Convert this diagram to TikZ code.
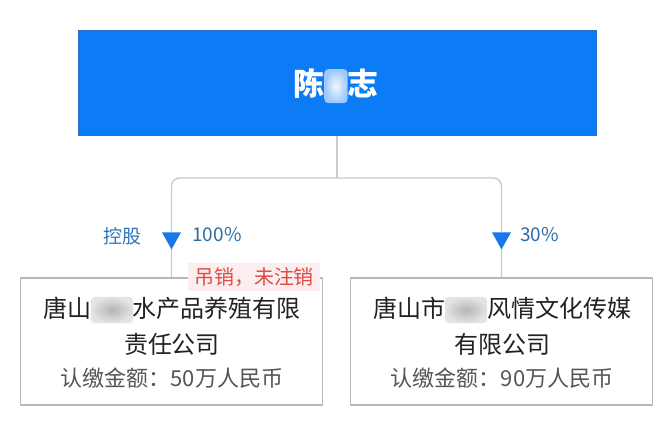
\documentclass[tikz,border=0pt]{standalone}
\usepackage{fontspec}
\setmainfont{Noto Sans CJK SC}
\usetikzlibrary{calc}
\definecolor{mainblue}{HTML}{0B7BF6}
\definecolor{mainborder}{HTML}{2A6FC2}
\definecolor{tri}{HTML}{1878E8}
\definecolor{lblblue}{HTML}{3275B8}
\definecolor{pctblue}{HTML}{2E6CA4}
\definecolor{linegray}{HTML}{C6CBD0}
\definecolor{boxgray}{HTML}{B8B8B8}
\definecolor{txtdark}{HTML}{222222}
\definecolor{txtgray}{HTML}{555555}
\definecolor{redtxt}{HTML}{E04B43}
\definecolor{pinkbg}{HTML}{FCEEEE}
\definecolor{blurgrayin}{HTML}{B5B5B5}
\definecolor{blurgrayout}{HTML}{E4E4E4}
\definecolor{blurbluein}{HTML}{F2F7FF}
\definecolor{blurblueout}{HTML}{9CC8FB}
\newcommand\blurpatch[3]{\tikz[baseline=-0.38em]{\shade[inner color=#2,outer color=#3,rounded corners=2pt] (0,-0.62em) rectangle (#1,0.48em);}}
\tikzset{
  x=0.5pt, y=-0.5pt,
  namebox/.style={draw=mainborder, line width=0.5pt, fill=mainblue, minimum width=259pt, minimum height=52.5pt, inner sep=0pt},
  nametext/.style={text=white, font=\bfseries\fontsize{15.5}{18}\selectfont, inner sep=0pt},
  cbox/.style={draw=boxgray, line width=0.6pt, fill=white, minimum width=151pt, minimum height=63.5pt, inner sep=0pt},
  conn/.style={draw=linegray, line width=0.7pt, rounded corners=4pt},
  arrowtri/.style={fill=tri},
  lbl/.style={text=lblblue, font=\fontsize{9.5}{11}\selectfont, inner sep=0pt},
  pct/.style={text=pctblue, font=\fontsize{9.5}{11}\selectfont, inner sep=0pt, anchor=west},
  line1/.style={text=txtdark, font=\fontsize{12}{14}\selectfont, inner sep=0pt},
  line3/.style={text=txtgray, font=\fontsize{11}{13}\selectfont, inner sep=0pt},
  status/.style={fill=pinkbg, text=redtxt, font=\fontsize{10}{12}\selectfont, inner xsep=3pt, inner ysep=2pt},
}
\begin{document}
\begin{tikzpicture}
\useasboundingbox[fill=white] (0,0) rectangle (660,429);
% top box
\node[namebox] (n) at (337,82.5) {};
\node[nametext] (nt) at (336,86) {陈\blurpatch{0.75em}{blurbluein}{blurblueout}志};
% company boxes
\node[cbox] (a) at (171.5,341.5) {};
\node[cbox] (b) at (501.5,341.5) {};
% connectors
\coordinate (j) at (n.south |- 0,178);
\draw[conn] (n.south) -- (j);
\draw[conn] (j) -| (a.north);
\draw[conn] (j) -| (b.north);
% triangles
\fill[arrowtri] ($(a.north)+(-9.5,-45)$) -- ($(a.north)+(9.5,-45)$) -- ($(a.north)+(0,-28)$) -- cycle;
\fill[arrowtri] ($(b.north)+(-9.5,-45)$) -- ($(b.north)+(9.5,-45)$) -- ($(b.north)+(0,-28)$) -- cycle;
% labels
\node[lbl] (hold) at (123,236) {控股};
\node[pct] (pa) at (192,235) {100\%};
\node[pct] (pb) at (520,235) {30\%};
% status
\node[status] (st) at (254,277) {吊销，未注销};
% texts in left box
\node[line1] (a1) at (172,310) {唐山\blurpatch{1.75em}{blurgrayin}{blurgrayout}水产品养殖有限};
\node[line1] (a2) at (172,344) {责任公司};
\node[line3] (a3) at (172,378) {认缴金额：50万人民币};
% texts in right box
\node[line1] (b1) at (502,310) {唐山市\blurpatch{1.75em}{blurgrayin}{blurgrayout}风情文化传媒};
\node[line1] (b2) at (502,344) {有限公司};
\node[line3] (b3) at (502,378) {认缴金额：90万人民币};
\end{tikzpicture}
\end{document}
